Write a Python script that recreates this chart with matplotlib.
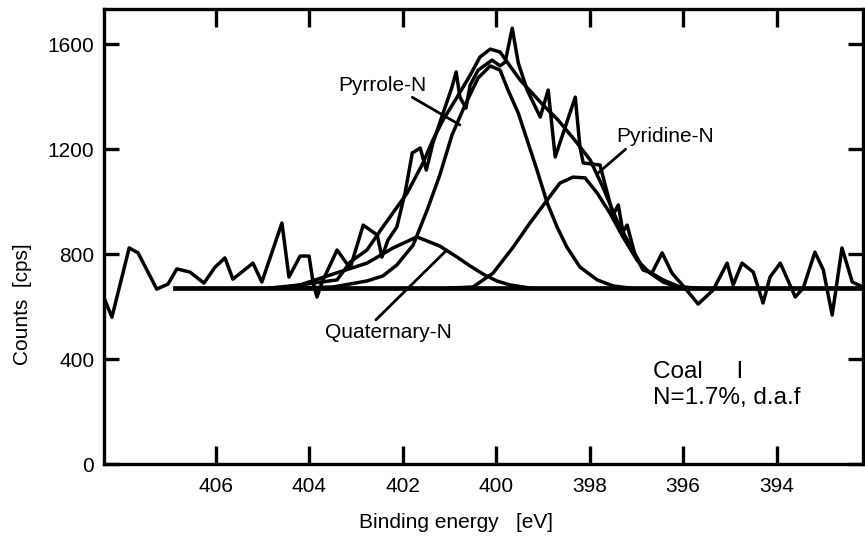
import numpy as np
import matplotlib.pyplot as plt

plt.rcParams['font.family'] = ['Liberation Sans', 'DejaVu Sans']

# measured N1s spectrum (binding energy in eV, counts in cps)
raw_be = [408.38, 408.23, 407.86, 407.67, 407.27, 407.03, 406.84, 406.56, 406.26, 406.02,
          405.81, 405.64, 405.21, 405.02, 404.59, 404.44, 404.20, 404.01, 403.92, 403.84,
          403.73, 403.41, 403.13, 402.85, 402.55, 402.45, 402.32, 402.13, 401.95, 401.80,
          401.63, 401.50, 401.35, 401.14, 400.95, 400.86, 400.78, 400.65, 400.56, 400.39,
          400.09, 399.92, 399.81, 399.66, 399.53, 399.34, 399.06, 398.89, 398.74, 398.31,
          398.21, 398.14, 397.78, 397.67, 397.50, 397.39, 397.29, 397.20, 397.03, 396.86,
          396.67, 396.45, 396.24, 395.96, 395.68, 395.36, 395.06, 394.93, 394.74, 394.50,
          394.29, 394.14, 393.92, 393.60, 393.43, 393.18, 393.00, 392.81, 392.60, 392.38,
          392.15]
raw_cps = [625, 560, 824, 805, 667, 686, 744, 732, 690, 751,
           786, 705, 766, 694, 919, 713, 793, 793, 690, 637,
           694, 816, 747, 911, 873, 789, 854, 904, 1037, 1186,
           1205, 1121, 1228, 1338, 1437, 1495, 1399, 1357, 1445, 1502,
           1540, 1518, 1533, 1662, 1529, 1426, 1323, 1426, 1171, 1399,
           1209, 1148, 1140, 1064, 949, 988, 885, 911, 797, 740,
           728, 805, 728, 671, 610, 663, 766, 683, 766, 732,
           614, 713, 766, 637, 671, 808, 740, 568, 824, 694,
           675]

# linear background
base_be = [406.88, 392.15]
base_cps = [671, 671]

# fitted envelope
env_be = [404.63, 403.92, 403.41, 403.13, 402.77, 402.43, 401.91, 401.57, 401.36, 401.14,
          400.84, 400.56, 400.35, 400.13, 399.92, 399.77, 399.49, 399.00, 398.68, 398.27,
          397.99, 397.72, 397.42, 397.14, 396.86, 396.43, 396.07, 395.70]
env_cps = [671, 690, 702, 770, 816, 904, 1033, 1148, 1235, 1312,
           1399, 1483, 1552, 1582, 1571, 1533, 1464, 1369, 1312, 1224,
           1159, 1056, 930, 835, 747, 702, 675, 671]

# pyrrole-N component
pyrrole_be = [404.20, 403.50, 402.77, 402.43, 402.13, 401.78, 401.48, 401.21, 400.95, 400.67,
              400.39, 400.13, 399.92, 399.75, 399.53, 399.34, 399.13, 398.91, 398.70, 398.49,
              398.21, 397.84, 397.50, 397.14]
pyrrole_cps = [671, 675, 698, 717, 759, 835, 969, 1102, 1254, 1369,
               1472, 1518, 1502, 1426, 1338, 1235, 1121, 995, 904, 827,
               751, 702, 679, 671]

# quaternary-N component
quat_be = [404.85, 404.20, 403.50, 402.77, 402.21, 401.70, 401.21, 400.84, 400.56, 400.28,
           399.99, 399.71, 399.28]
quat_cps = [671, 683, 724, 766, 824, 866, 831, 789, 755, 724,
            698, 683, 671]

# pyridine-N component
pyridine_be = [400.99, 400.50, 400.07, 399.64, 399.28, 398.91, 398.64, 398.36, 398.10, 397.84,
               397.57, 397.29, 396.99, 396.71, 396.43, 396.13, 395.70]
pyridine_cps = [671, 675, 728, 827, 919, 1007, 1071, 1094, 1091, 1033,
                957, 866, 778, 728, 694, 675, 671]

x_ticks = [406, 404, 402, 400, 398, 396, 394]
y_ticks = [0, 400, 800, 1200, 1600]

fig = plt.figure(figsize=(8.65, 5.39), dpi=100)
ax = fig.add_axes([0.1202, 0.1391, 0.8775, 0.8442])

lw = 2.5
ax.plot(base_be, base_cps, color='black', lw=3.4)
ax.plot(quat_be, quat_cps, color='black', lw=lw)
ax.plot(pyridine_be, pyridine_cps, color='black', lw=lw)
ax.plot(pyrrole_be, pyrrole_cps, color='black', lw=lw)
ax.plot(env_be, env_cps, color='black', lw=lw)
ax.plot(raw_be, raw_cps, color='black', lw=lw)

ax.set_xlim(408.4, 392.15)
ax.set_ylim(0, 1735)
ax.set_xticks(x_ticks)
ax.set_yticks(y_ticks)

ax.tick_params(axis='both', direction='in', top=True, right=True,
               width=2.4, labelsize=15, colors='black')
ax.tick_params(axis='x', length=13, pad=9)
ax.tick_params(axis='y', length=11, pad=7)
for s in ax.spines.values():
    s.set_linewidth(2.4)

ax.set_xlabel('Binding energy   [eV]', fontsize=15, va='top')
ax.xaxis.set_label_coords(0.464, -0.108)
ax.set_ylabel('Counts  [cps]', fontsize=15)
ax.yaxis.set_label_coords(-0.095, 0.352)

# peak labels with leader lines
lead = dict(arrowstyle='-', lw=2.0, color='black', shrinkA=0, shrinkB=0)
ax.annotate('Pyrrole-N', xy=(400.78, 1293), xytext=(402.43, 1445),
            ha='center', va='center', fontsize=15,
            arrowprops=dict(lead, relpos=(0.78, 0.0)))
ax.annotate('Pyridine-N', xy=(397.82, 1110), xytext=(396.39, 1247),
            ha='center', va='center', fontsize=15,
            arrowprops=dict(lead, relpos=(0.13, 0.0)))
ax.annotate('Quaternary-N', xy=(401.06, 816), xytext=(402.30, 503),
            ha='center', va='center', fontsize=15,
            arrowprops=dict(lead, relpos=(0.375, 1.0)))

ax.text(0.723, 0.202, 'Coal     I', transform=ax.transAxes,
        ha='left', va='center', fontsize=17.5)
ax.text(0.723, 0.145, 'N=1.7%, d.a.f', transform=ax.transAxes,
        ha='left', va='center', fontsize=17.5)

plt.savefig('out.png', dpi=100)
